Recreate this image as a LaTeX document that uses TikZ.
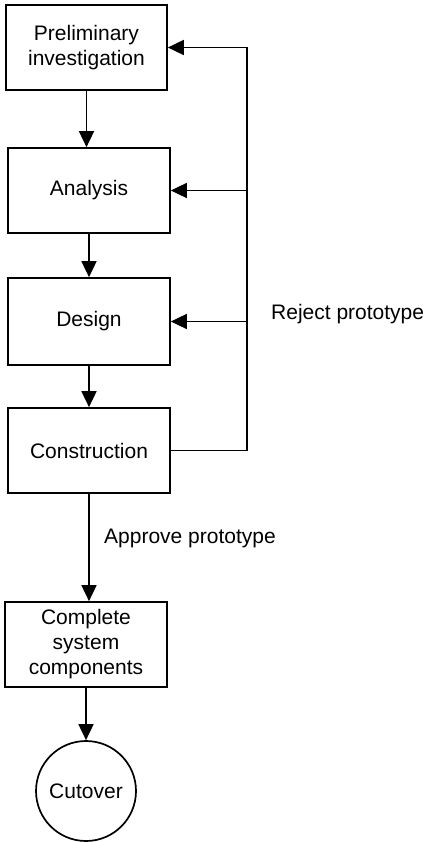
\documentclass[tikz,border=0pt]{standalone}
\usepackage{fontspec}
\setmainfont{Liberation Sans}
\usetikzlibrary{arrows.meta}
\begin{document}
\begin{tikzpicture}[x=1pt,y=-1pt,
  every node/.style={font=\fontsize{21}{24.5}\selectfont},
  stepbox/.style={draw,line width=1.7pt,rectangle,minimum width=162pt,minimum height=85pt,align=center,inner sep=0pt},
  flow/.style={line width=1.7pt,-{Triangle[length=16pt,width=15pt]}},
  plain/.style={line width=1.7pt},
  lbl/.style={anchor=west,inner sep=0pt}]
\useasboundingbox (0,0) rectangle (426,842);
\node[stepbox,minimum width=161pt] (prel) at (86.5,47.5) {Preliminary\\investigation};
\node[stepbox] (anal) at (89,190.5) {Analysis};
\node[stepbox,minimum height=87pt] (desg) at (89,321.5) {Design};
\node[stepbox] (cons) at (89,450.5) {Construction};
\node[stepbox,font=\fontsize{21}{25}\selectfont] (comp) at (86,644.5) {Complete\\system\\components};
\node[draw,line width=1.7pt,circle,minimum size=100pt,inner sep=0pt] (cut) at (86,791) {Cutover};
\coordinate (fb) at (247,450.5);
\coordinate (fbtop) at (247,47.5);
\draw[flow] (prel.south) -- (prel.south |- anal.north);
\draw[flow] (anal.south) -- (anal.south |- desg.north);
\draw[flow] (desg.south) -- (desg.south |- cons.north);
\draw[flow] (cons.south) -- (cons.south |- comp.north);
\draw[flow] (comp.south) -- (comp.south |- cut.north);
\draw[plain] (cons.east) -- (fb) -- (fbtop);
\draw[flow] (fbtop) -- (prel.east);
\draw[flow] (fb |- anal.east) -- (anal.east);
\draw[flow] (fb |- desg.east) -- (desg.east);
\node[lbl] (rej) at (271,314) {Reject prototype};
\node[lbl] (app) at (104,538) {Approve prototype};
\end{tikzpicture}
\end{document}
